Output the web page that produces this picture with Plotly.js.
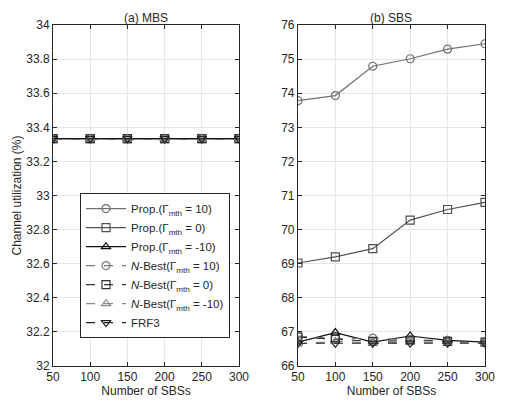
<!DOCTYPE html>
<html><head><meta charset="utf-8">
<script src="https://cdn.plot.ly/plotly-3.0.1.min.js"></script>
<style>body{margin:0;background:#fff}#c{width:513px;height:403px}</style>
</head><body><div id="c"></div>
<script>
const sbs = [50, 100, 150, 200, 250, 300];
const names = ["Prop.(Γ<sub>mth</sub> = 10)", "Prop.(Γ<sub>mth</sub> = 0)", "Prop.(Γ<sub>mth</sub> = -10)",
  "<i>N</i>-Best(Γ<sub>mth</sub> = 10)", "<i>N</i>-Best(Γ<sub>mth</sub> = 0)", "<i>N</i>-Best(Γ<sub>mth</sub> = -10)", "FRF3"];
const mbsTickVals = [32, 32.2, 32.4, 32.6, 32.8, 33, 33.2, 33.4, 33.6, 33.8, 34];
const mbsTickText = ["32", "32.2", "32.4", "32.6", "32.8", "33", "33.2", "33.4", "33.6", "33.8", "34"];
// MBS channel utilization (%)
const mbsProp10 = [33.333, 33.333, 33.333, 33.333, 33.333, 33.333];
const mbsProp0 = [33.333, 33.333, 33.333, 33.333, 33.333, 33.333];
const mbsPropM10 = [33.333, 33.333, 33.333, 33.333, 33.333, 33.333];
const mbsNB10 = [33.333, 33.333, 33.333, 33.333, 33.333, 33.333];
const mbsNB0 = [33.333, 33.333, 33.333, 33.333, 33.333, 33.333];
const mbsNBM10 = [33.333, 33.333, 33.333, 33.333, 33.333, 33.333];
const mbsFRF3 = [33.333, 33.333, 33.333, 33.333, 33.333, 33.333];
// SBS channel utilization (%)
const sbsProp10 = [73.78, 73.93, 74.79, 75.01, 75.29, 75.45];
const sbsProp0 = [69.02, 69.20, 69.44, 70.28, 70.59, 70.80];
const sbsPropM10 = [66.70, 66.98, 66.70, 66.88, 66.75, 66.70];
const sbsNB10 = [66.88, 66.80, 66.82, 66.76, 66.75, 66.70];
const sbsNB0 = [66.85, 66.78, 66.72, 66.75, 66.72, 66.70];
const sbsNBM10 = [66.65, 66.72, 66.68, 66.70, 66.70, 66.68];
const sbsFRF3 = [66.667, 66.667, 66.667, 66.667, 66.667, 66.667];

const styles = [
  {color:"#707070", dash:"solid", sym:"circle-open"},
  {color:"#505050", dash:"solid", sym:"square-open"},
  {color:"#111111", dash:"solid", sym:"triangle-up-open"},
  {color:"#7a7a7a", dash:"dash", sym:"circle-open"},
  {color:"#333333", dash:"dash", sym:"square-open"},
  {color:"#8a8a8a", dash:"dash", sym:"triangle-up-open"},
  {color:"#222222", dash:"dash", sym:"triangle-down-open"}
];
const mbs = [mbsProp10, mbsProp0, mbsPropM10, mbsNB10, mbsNB0, mbsNBM10, mbsFRF3];
const sb = [sbsProp10, sbsProp0, sbsPropM10, sbsNB10, sbsNB0, sbsNBM10, sbsFRF3];
const traces = [];
mbs.forEach((y,i)=>{
  traces.push({x:sbs, y:y, name:names[i], type:"scatter", mode:"lines+markers",
    line:{color:styles[i].color, dash:styles[i].dash, width:1.2},
    marker:{symbol:styles[i].sym, size:8, color:styles[i].color, line:{width:1.2}},
    xaxis:"x", yaxis:"y", showlegend:true});
});
sb.forEach((y,i)=>{
  traces.push({x:sbs, y:y, name:names[i], type:"scatter", mode:"lines+markers",
    line:{color:styles[i].color, dash:styles[i].dash, width:1.2},
    marker:{symbol:styles[i].sym, size:8, color:styles[i].color, line:{width:1.2}},
    xaxis:"x2", yaxis:"y2", showlegend:false});
});
const ax = {showgrid:true, gridcolor:"#e6e6e6", showline:true, linecolor:"#262626", linewidth:1,
  mirror:"ticks", ticks:"inside", ticklen:4, tickcolor:"#262626", zeroline:false,
  tickfont:{family:"Liberation Sans, Arial", size:12, color:"#262626"}};
const fontT = {family:"Liberation Sans, Arial", size:12, color:"#262626"};
const layout = {
  width:513, height:403, margin:{l:53, r:28, t:25, b:37},
  paper_bgcolor:"#fff", plot_bgcolor:"#fff", showlegend:true,
  font:{family:"Liberation Sans, Arial", size:12, color:"#262626"},
  xaxis:Object.assign({}, ax, {domain:[0, 0.4306], range:[50,300], tickvals:sbs,
    title:{text:"Number of SBSs", font:fontT, standoff:0}}),
  yaxis:Object.assign({}, ax, {range:[32,34], tickvals:mbsTickVals, ticktext:mbsTickText,
    title:{text:"Channel utilization (%)", font:fontT, standoff:2}}),
  xaxis2:Object.assign({}, ax, {domain:[0.567, 1], anchor:"y2", range:[50,300], tickvals:sbs,
    title:{text:"Number of SBSs", font:fontT, standoff:0}}),
  yaxis2:Object.assign({}, ax, {anchor:"x2", range:[66,76], dtick:1}),
  legend:{x:0.0625, y:0.507, xanchor:"left", yanchor:"top", bgcolor:"#fff", bordercolor:"#262626",
    borderwidth:1, font:{family:"Liberation Sans, Arial", size:11.5, color:"#262626"}, itemwidth:40,
    tracegroupgap:0},
  annotations:[
    {text:"(a) MBS", xref:"x domain", yref:"paper", x:0.5, y:1, yshift:-2, yanchor:"bottom", showarrow:false, font:fontT},
    {text:"(b) SBS", xref:"x2 domain", yref:"paper", x:0.5, y:1, yshift:-2, yanchor:"bottom", showarrow:false, font:fontT}
  ]
};
Plotly.newPlot("c", traces, layout, {displayModeBar:false, staticPlot:true});
</script></body></html>
